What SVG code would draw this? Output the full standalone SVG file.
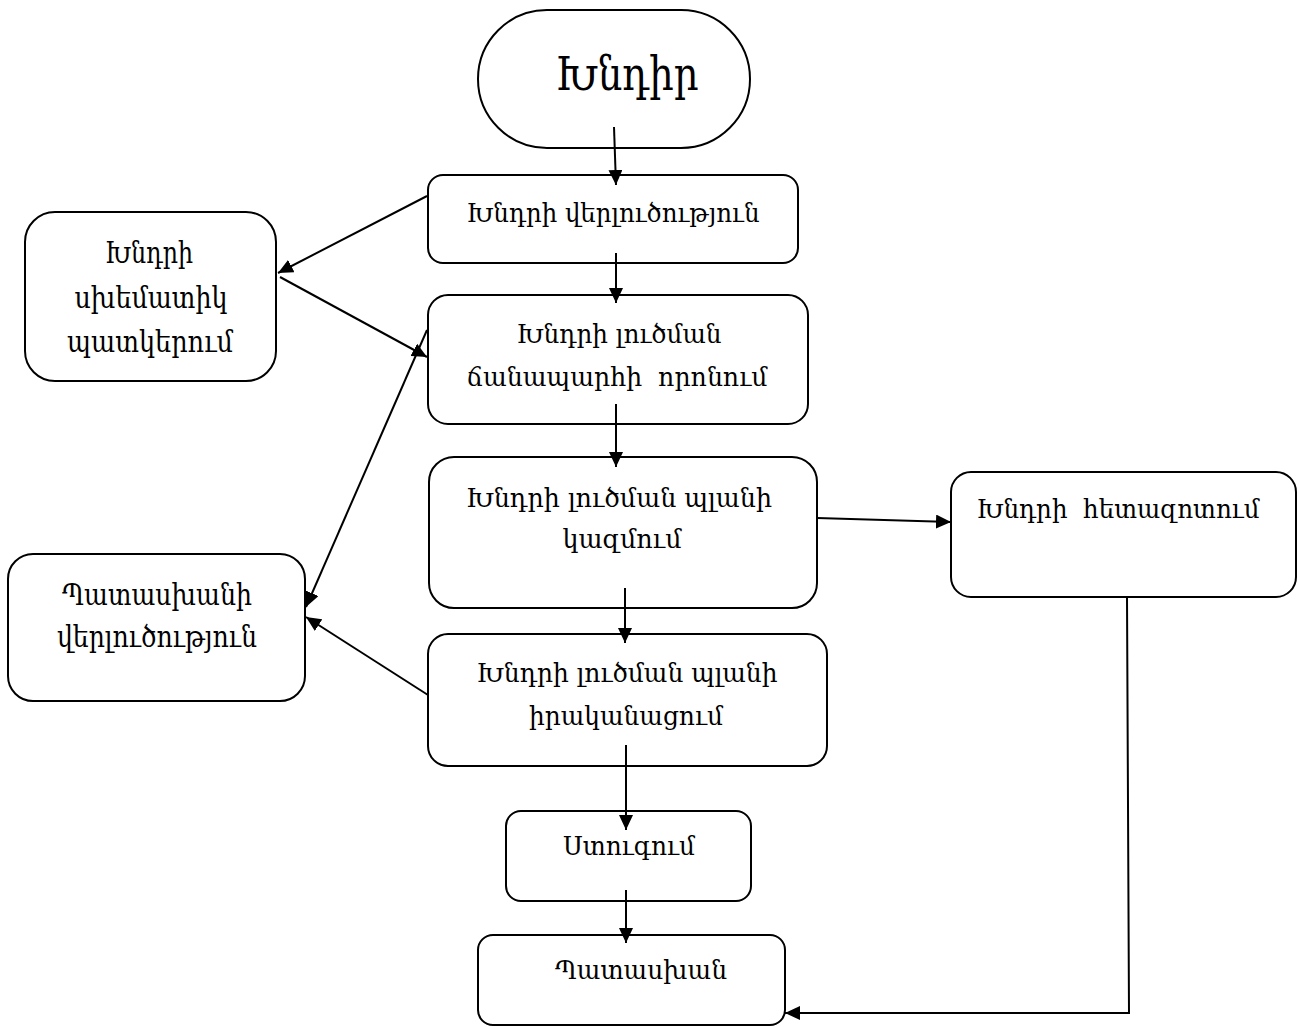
<svg xmlns="http://www.w3.org/2000/svg" width="1300" height="1027" viewBox="0 0 1300 1027">
<style>
.box{fill:#fff;stroke:#000;stroke-width:2}
.t{font-family:"DejaVu Serif","Liberation Serif",serif;font-size:26px;fill:#000;text-anchor:middle;white-space:pre}
.big{font-size:30px}
.title{font-size:47px}
.c{fill:none;stroke:#000;stroke-width:2;marker-end:url(#ah)}
</style>
<defs>
<marker id="ah" markerUnits="userSpaceOnUse" markerWidth="16" markerHeight="14" refX="15" refY="7" orient="auto">
<path d="M0,0 L15,7 L0,14 z" fill="#000"/>
</marker>
</defs>
<rect width="1300" height="1027" fill="#fff"/>
<g id="n1"><rect class="box" x="478" y="10" width="272" height="138" rx="69"/>
<text class="t title" x="627" y="90" textLength="143" lengthAdjust="spacingAndGlyphs">Խնդիր</text></g>
<g id="n2"><rect class="box" x="428" y="175" width="370" height="88" rx="15"/>
<text class="t" x="613" y="222" textLength="293" lengthAdjust="spacingAndGlyphs">Խնդրի վերլուծություն</text></g>
<g id="n3"><rect class="box" x="25" y="212" width="251" height="169" rx="30"/>
<text class="t big" x="149" y="263" textLength="88" lengthAdjust="spacingAndGlyphs">Խնդրի</text>
<text class="t big" x="151" y="308" textLength="153" lengthAdjust="spacingAndGlyphs">սխեմատիկ</text>
<text class="t big" x="150" y="352" textLength="166" lengthAdjust="spacingAndGlyphs">պատկերում</text></g>
<g id="n4"><rect class="box" x="428" y="295" width="380" height="129" rx="20"/>
<text class="t" x="619" y="343" textLength="205" lengthAdjust="spacingAndGlyphs">Խնդրի լուծման</text>
<text class="t" x="617" y="386" textLength="301" lengthAdjust="spacingAndGlyphs">ճանապարհի  որոնում</text></g>
<g id="n5"><rect class="box" x="429" y="457" width="388" height="151" rx="25"/>
<text class="t" x="619" y="507" textLength="306" lengthAdjust="spacingAndGlyphs">Խնդրի լուծման պլանի</text>
<text class="t" x="622" y="548" textLength="119" lengthAdjust="spacingAndGlyphs">կազմում</text></g>
<g id="n6"><rect class="box" x="951" y="472" width="345" height="125" rx="20"/>
<text class="t" x="1118" y="518" textLength="283" lengthAdjust="spacingAndGlyphs">Խնդրի  հետազոտում</text></g>
<g id="n7"><rect class="box" x="428" y="634" width="399" height="132" rx="20"/>
<text class="t" x="627" y="682" textLength="301" lengthAdjust="spacingAndGlyphs">Խնդրի լուծման պլանի</text>
<text class="t" x="626" y="725" textLength="194" lengthAdjust="spacingAndGlyphs">իրականացում</text></g>
<g id="n8"><rect class="box" x="506" y="811" width="245" height="90" rx="15"/>
<text class="t" x="629" y="855" textLength="132" lengthAdjust="spacingAndGlyphs">Ստուգում</text></g>
<g id="n9"><rect class="box" x="478" y="935" width="307" height="90" rx="15"/>
<text class="t" x="641" y="979" textLength="172" lengthAdjust="spacingAndGlyphs">Պատասխան</text></g>
<g id="n10"><rect class="box" x="8" y="554" width="297" height="147" rx="25"/>
<text class="t big" x="157" y="605" textLength="190" lengthAdjust="spacingAndGlyphs">Պատասխանի</text>
<text class="t big" x="157" y="647" textLength="200" lengthAdjust="spacingAndGlyphs">վերլուծություն</text></g>
<g id="connectors">
<line class="c" x1="614" y1="127" x2="616" y2="185"/>
<line class="c" x1="616" y1="253" x2="616" y2="303"/>
<line class="c" x1="427" y1="196" x2="278" y2="273"/>
<line class="c" x1="280" y1="277" x2="427" y2="357"/>
<line class="c" x1="616" y1="404" x2="616" y2="467"/>
<line class="c" x1="817" y1="518" x2="951" y2="522"/>
<line class="c" x1="625" y1="588" x2="625" y2="643"/>
<line class="c" x1="427" y1="330" x2="306" y2="607"/>
<line class="c" x1="428" y1="695" x2="306" y2="617"/>
<line class="c" x1="626" y1="745" x2="626" y2="830"/>
<line class="c" x1="626" y1="890" x2="626" y2="943"/>
<polyline class="c" points="1127,597 1129,1013 785,1013"/>
</g>
</svg>
